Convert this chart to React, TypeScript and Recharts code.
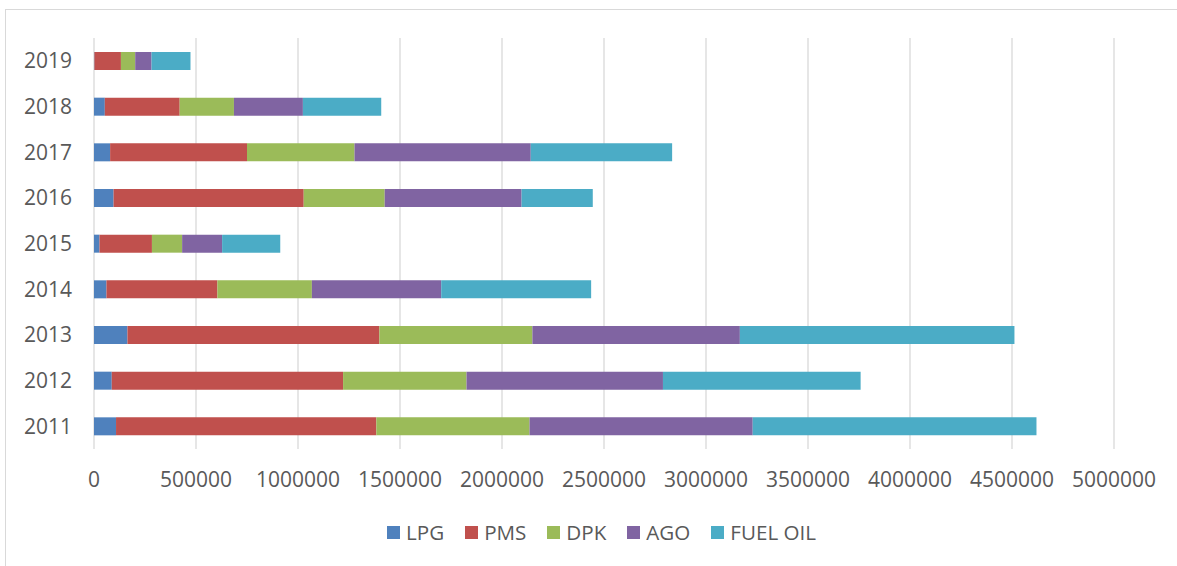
import { BarChart, Bar, XAxis, YAxis, CartesianGrid, Legend } from 'recharts';

const YEARS = ['2011', '2012', '2013', '2014', '2015', '2016', '2017', '2018', '2019'];
const LPG = [108000, 87000, 164000, 61000, 27000, 96000, 79000, 53000, 2000];
const PMS = [1276000, 1134000, 1235000, 544000, 257000, 932000, 671000, 367000, 130000];
const DPK = [751000, 605000, 750000, 463000, 148000, 397000, 527000, 266000, 70000];
const AGO = [1094000, 963000, 1017000, 634000, 196000, 671000, 864000, 338000, 80000];
const FUEL_OIL = [1391000, 969000, 1346000, 735000, 285000, 349000, 693000, 384000, 191000];
const X_TICKS = [0, 500000, 1000000, 1500000, 2000000, 2500000, 3000000, 3500000, 4000000, 4500000, 5000000];

const SERIES = [
  { key: 'LPG', color: '#4F81BD' },
  { key: 'PMS', color: '#C0504D' },
  { key: 'DPK', color: '#9BBB59' },
  { key: 'AGO', color: '#8064A2' },
  { key: 'FUEL OIL', color: '#4BACC6' },
];

const data = YEARS.map((y, i) => ({
  year: y,
  LPG: LPG[i],
  PMS: PMS[i],
  DPK: DPK[i],
  AGO: AGO[i],
  'FUEL OIL': FUEL_OIL[i],
}));

const FONT = '"Open Sans", "Liberation Sans", sans-serif';
const TEXT = '#595959';

function LegendRow() {
  return (
    <div style={{ display: 'flex', alignItems: 'center', height: 30, fontFamily: FONT, fontSize: 20.6, color: TEXT }}>
      {SERIES.map(s => (
        <div key={s.key} style={{ display: 'flex', alignItems: 'center', marginRight: 21 }}>
          <span style={{ width: 13, height: 13, background: s.color, display: 'inline-block', marginRight: 6 }} />
          <span style={{ whiteSpace: 'nowrap' }}>{s.key}</span>
        </div>
      ))}
    </div>
  );
}

export default function App() {
  return (
    <div style={{ position: 'absolute', left: 0, top: 0, width: 1177, height: 566, overflow: 'hidden', background: '#fff' }}>
      <div style={{ position: 'absolute', left: 5, top: 9, width: 1400, height: 800, border: '1px solid #D9D9D9' }} />
      <div style={{ position: 'absolute', left: 0, top: 0 }}>
        <BarChart
          width={1177}
          height={566}
          data={data}
          layout="vertical"
          barSize={18}
          margin={{ top: 38, right: 63, bottom: 47, left: 14 }}
        >
          <CartesianGrid horizontal={false} stroke="#D9D9D9" strokeWidth={1.3} />
          <XAxis
            type="number"
            domain={[0, 5000000]}
            ticks={X_TICKS}
            interval={0}
            axisLine={false}
            tickLine={false}
            tickSize={0}
            tickMargin={23}
            height={40}
            tick={{ fill: TEXT, fontSize: 21, fontFamily: FONT }}
          />
          <YAxis
            type="category"
            dataKey="year"
            reversed
            width={80}
            axisLine={false}
            tickLine={false}
            tickSize={0}
            tickMargin={22}
            tick={{ fill: TEXT, fontSize: 21, fontFamily: FONT }}
          />
          <Legend content={() => <LegendRow />} wrapperStyle={{ left: 387, top: 517, width: 'auto' }} />
          {SERIES.map(s => (
            <Bar key={s.key} dataKey={s.key} stackId="a" fill={s.color} isAnimationActive={false} />
          ))}
        </BarChart>
      </div>
    </div>
  );
}
